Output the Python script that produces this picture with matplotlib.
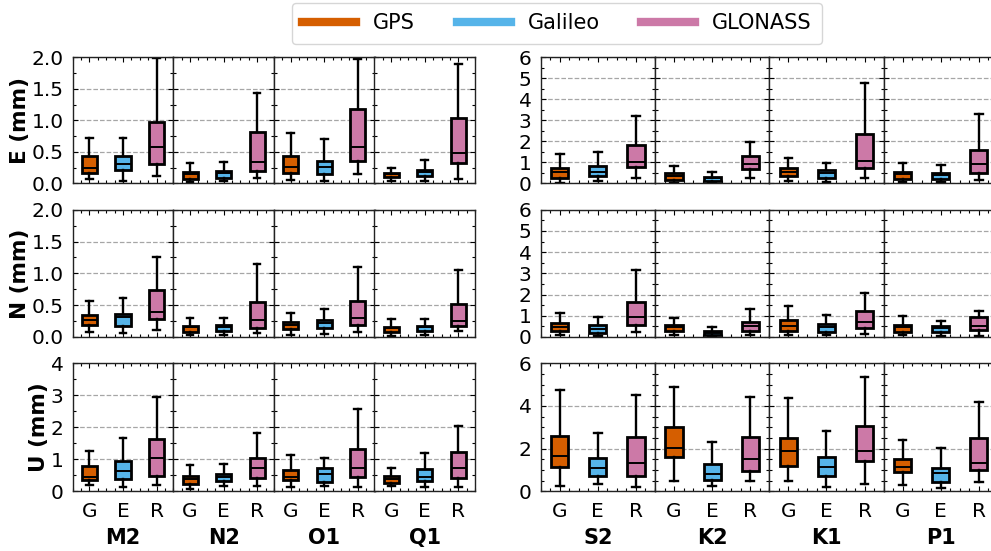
import matplotlib
matplotlib.use("Agg")
import matplotlib.pyplot as plt
from matplotlib.lines import Line2D
from matplotlib.ticker import MultipleLocator, FormatStrFormatter

# ---------------- data ----------------
constituents = ['M2', 'N2', 'O1', 'Q1', 'S2', 'K2', 'K1', 'P1']
systems = ['GPS', 'Galileo', 'GLONASS']
tick_labels = ['G', 'E', 'R']
components = ['E', 'N', 'U']
colors = ['#D55E00', '#56B4E9', '#CC79A7']

# each entry: [GPS, Galileo, GLONASS] per constituent (mm)
e_whislo = [[0.07, 0.04, 0.12], [0.02, 0.04, 0.085], [0.06, 0.04, 0.14], [0.03, 0.03, 0.07],
            [0.03, 0.09, 0.235], [0.03, 0.02, 0.235], [0.09, 0.06, 0.235], [0.06, 0.05, 0.17]]
e_q1 = [[0.17, 0.21, 0.30], [0.07, 0.09, 0.20], [0.17, 0.14, 0.355], [0.095, 0.11, 0.33],
        [0.25, 0.33, 0.80], [0.17, 0.125, 0.67], [0.36, 0.27, 0.72], [0.22, 0.22, 0.49]]
e_med = [[0.25, 0.30, 0.58], [0.14, 0.16, 0.34], [0.265, 0.265, 0.58], [0.15, 0.175, 0.48],
         [0.53, 0.52, 1.03], [0.33, 0.235, 0.94], [0.56, 0.49, 1.07], [0.42, 0.38, 0.91]]
e_q3 = [[0.43, 0.44, 0.98], [0.18, 0.20, 0.815], [0.44, 0.36, 1.185], [0.17, 0.21, 1.03],
        [0.75, 0.83, 1.82], [0.49, 0.31, 1.32], [0.75, 0.63, 2.33], [0.55, 0.50, 1.60]]
e_whishi = [[0.72, 0.72, 1.99], [0.32, 0.34, 1.44], [0.80, 0.70, 1.98], [0.24, 0.365, 1.90],
            [1.38, 1.49, 3.21], [0.83, 0.53, 1.97], [1.21, 0.97, 4.76], [0.99, 0.85, 3.29]]

n_whislo = [[0.084, 0.058, 0.11], [0.037, 0.037, 0.063], [0.037, 0.052, 0.078], [0.021, 0.026, 0.094],
            [0.08, 0.05, 0.22], [0.08, 0.016, 0.11], [0.08, 0.08, 0.157], [0.11, 0.063, 0.063]]
n_q1 = [[0.188, 0.168, 0.277], [0.079, 0.094, 0.14], [0.12, 0.14, 0.183], [0.084, 0.089, 0.173],
        [0.283, 0.19, 0.565], [0.28, 0.094, 0.28], [0.267, 0.22, 0.41], [0.22, 0.22, 0.345]]
n_med = [[0.267, 0.314, 0.393], [0.152, 0.157, 0.27], [0.194, 0.215, 0.293], [0.147, 0.157, 0.257],
         [0.487, 0.36, 0.94], [0.47, 0.19, 0.52], [0.52, 0.47, 0.69], [0.487, 0.44, 0.52]]
n_q3 = [[0.345, 0.356, 0.743], [0.178, 0.188, 0.55], [0.236, 0.267, 0.56], [0.162, 0.178, 0.52],
        [0.644, 0.55, 1.66], [0.58, 0.267, 0.72], [0.817, 0.63, 1.225], [0.58, 0.50, 0.94]]
n_whishi = [[0.565, 0.613, 1.25], [0.30, 0.30, 1.147], [0.38, 0.445, 1.10], [0.283, 0.283, 1.05],
            [1.115, 0.927, 3.14], [0.91, 0.455, 1.335], [1.445, 1.02, 2.09], [0.99, 0.74, 1.225]]

u_whislo = [[0.198, 0.125, 0.21], [0.083, 0.156, 0.177], [0.135, 0.177, 0.125], [0.156, 0.125, 0.125],
            [0.25, 0.35, 0.20], [0.49, 0.235, 0.49], [0.49, 0.22, 0.35], [0.28, 0.17, 0.455]]
u_q1 = [[0.354, 0.385, 0.48], [0.23, 0.323, 0.427], [0.354, 0.30, 0.448], [0.26, 0.323, 0.406],
        [1.15, 0.72, 0.72], [1.62, 0.53, 0.97], [1.19, 0.71, 1.40], [0.895, 0.42, 1.02]]
u_med = [[0.458, 0.646, 1.03], [0.396, 0.458, 0.72], [0.458, 0.53, 0.73], [0.385, 0.458, 0.72],
         [1.65, 1.07, 1.32], [2.03, 0.82, 1.52], [1.87, 1.13, 1.87], [1.13, 0.88, 1.32]]
u_q3 = [[0.78, 0.958, 1.625], [0.48, 0.53, 1.05], [0.677, 0.72, 1.333], [0.48, 0.70, 1.23],
        [2.58, 1.555, 2.53], [3.03, 1.26, 2.54], [2.51, 1.586, 3.05], [1.52, 1.10, 2.51]]
u_whishi = [[1.27, 1.656, 2.96], [0.81, 0.854, 1.82], [1.135, 1.04, 2.56], [0.73, 1.20, 2.03],
            [4.77, 2.75, 4.51], [4.9, 2.31, 4.41], [4.37, 2.83, 5.36], [2.42, 2.01, 4.19]]

stats_by_comp = {
    'E': (e_whislo, e_q1, e_med, e_q3, e_whishi),
    'N': (n_whislo, n_q1, n_med, n_q3, n_whishi),
    'U': (u_whislo, u_q1, u_med, u_q3, u_whishi),
}

# ---------------- layout ----------------
W, H = 991, 551
fig = plt.figure(figsize=(W / 100, H / 100), dpi=100)

row_px = [(57.3, 183.3), (209.7, 337.0), (363.3, 491.3)]
left_x0, left_w = 72.7, 100.6
right_x0, right_w = 540.7, 114.3

# (ylim top, major, minor, fmt) per row for left/right groups
ycfg = {
    ('E', 0): (2.0, 0.5, 0.25, '%.1f'), ('E', 1): (6, 1, 0.5, '%d'),
    ('N', 0): (2.0, 0.5, 0.25, '%.1f'), ('N', 1): (6, 1, 0.5, '%d'),
    ('U', 0): (4, 1, 0.5, '%d'), ('U', 1): (6, 2, 0.5, '%d'),
}

FS = 14.5
for r, comp in enumerate(components):
    top, bot = row_px[r]
    whislo, q1, med, q3, whishi = stats_by_comp[comp]
    for c, name in enumerate(constituents):
        grp = 0 if c < 4 else 1
        k = c % 4
        x0 = (left_x0 + k * left_w) if grp == 0 else (right_x0 + k * right_w)
        w = left_w if grp == 0 else right_w
        ax = fig.add_axes([x0 / W, 1 - bot / H, w / W, (bot - top) / H])
        stats = []
        for s in range(3):
            stats.append(dict(whislo=whislo[c][s], q1=q1[c][s], med=med[c][s],
                              q3=q3[c][s], whishi=whishi[c][s], fliers=[]))
        bp = ax.bxp(stats, positions=[1, 2, 3], widths=0.45, patch_artist=True,
                    showfliers=False,
                    boxprops=dict(linewidth=2.0, edgecolor='black'),
                    whiskerprops=dict(linewidth=1.7, color='black'),
                    capprops=dict(linewidth=1.7, color='black'),
                    medianprops=dict(linewidth=1.4, color='black'),
                    capwidths=0.2)
        for patch, col in zip(bp['boxes'], colors):
            patch.set_facecolor(col)
        ymax, maj, mnr, fmt = ycfg[(comp, grp)]
        ax.set_ylim(0, ymax)
        ax.set_xlim(0.5, 3.5)
        ax.yaxis.set_major_locator(MultipleLocator(maj))
        ax.yaxis.set_minor_locator(MultipleLocator(mnr))
        ax.yaxis.set_major_formatter(FormatStrFormatter(fmt))
        ax.xaxis.set_minor_locator(MultipleLocator(0.25))
        ax.set_xticks([1, 2, 3])
        ax.yaxis.grid(True, which='major', linestyle='--', color='gray', alpha=0.7, linewidth=0.9)
        ax.set_axisbelow(True)
        ax.tick_params(which='both', direction='in', top=True, right=True, labelsize=FS)
        ax.tick_params(which='major', length=3.5, width=0.8)
        ax.tick_params(which='minor', length=2, width=0.8)
        ax.tick_params(axis='x', which='major', pad=7.5)
        ax.tick_params(axis='y', which='major', pad=6.5)
        for sp in ax.spines.values():
            sp.set_linewidth(1.0)
            sp.set_color('#222222')
        if k != 0:
            ax.tick_params(labelleft=False)
        if r == 2:
            ax.set_xticklabels(tick_labels)
            ax.set_xlabel(name, fontsize=15, fontweight='bold', labelpad=5)
        else:
            ax.tick_params(labelbottom=False)
        if c == 0:
            ax.set_ylabel(f'{comp} (mm)', fontsize=15.5, fontweight='bold', labelpad=1)

handles = [Line2D([0], [0], color=col, lw=6) for col in colors]
fig.legend(handles, systems, loc='upper center', bbox_to_anchor=(557 / W, 1 - 3 / H),
           ncol=3, fontsize=15, handlelength=2.6, columnspacing=2.0, frameon=True,
           edgecolor='#cccccc', borderpad=0.5, borderaxespad=0)

fig.savefig('out.png', dpi=100)
